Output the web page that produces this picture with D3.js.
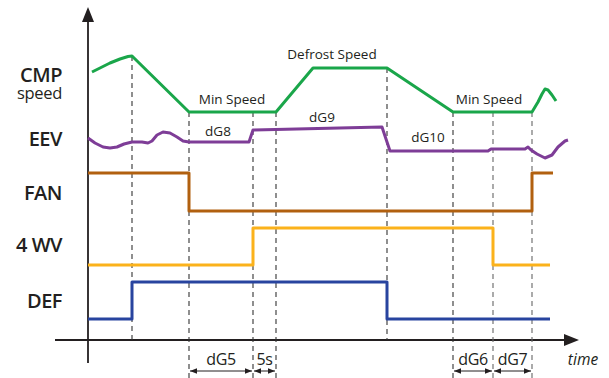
<!DOCTYPE html>
<html><head><meta charset="utf-8">
<script src="https://cdn.jsdelivr.net/npm/d3@7"></script>
<style>body{margin:0;background:#fff}svg{display:block}text{font-family:"Open Sans",sans-serif;fill:#231f20}</style>
</head><body><div id="chart"></div>
<script>
// time axis: t units (0 = y axis), value axis: level units (0 = x axis)
const eventTimes = [44, 101, 165, 188, 299, 365, 405, 444];
const eventTops  = [284, 228, 228, 228, 272, 228, 228, 228];
const eventBottoms = [0, -38, -38, -38, 0, -38, -38, -38];

const cmpT = [4, 12, 22, 32, 40, 44, 101, 188, 225, 299, 365, 444, 450, 454, 457, 460, 464, 468];
const cmpV = [268, 272, 277, 281, 283.5, 284, 228, 228, 272, 272, 228, 228, 238, 246, 251, 250, 245, 239];

const eevT = [0, 7, 15, 22, 29, 36, 44, 54, 60, 64, 69, 75, 82, 89, 95, 101, 161, 165, 294, 302, 400, 403, 437, 440, 443, 449, 457, 464, 470, 477, 480];
const eevV = [202, 197, 193, 192, 193, 196, 198, 198, 197, 199, 205, 208, 207, 203, 199, 198, 198, 210, 213, 189, 189, 191, 191, 193, 190, 186, 182, 185, 193, 199, 200];

const fanT = [0, 101, 101, 444, 444, 465];
const fanV = [167, 167, 129, 129, 167, 167];
const wvT  = [0, 165, 165, 405, 405, 462];
const wvV  = [75, 75, 112, 112, 75, 75];
const defT = [0, 44, 44, 299, 299, 462];
const defV = [21, 21, 58, 58, 21, 21];

const signalLabels = ["EEV", "FAN", "4 WV", "DEF"];
const signalLabelV = [194, 140, 88, 32];

const speedLabels = ["Min Speed", "Defrost Speed", "Min Speed"];
const speedLabelT = [144, 244, 401];
const speedLabelV = [236, 281, 236];

const eevLabels = ["dG8", "dG9", "dG10"];
const eevLabelT = [130, 234, 340];
const eevLabelV = [204, 218, 198];

const dimLabels = ["dG5", "5s", "dG6", "dG7"];
const dimFrom = [101, 165, 365, 405];
const dimTo   = [165, 188, 405, 444];

const W = 609, H = 378;
const x = d3.scaleLinear().domain([0, 490]).range([88, 578]);
const y = d3.scaleLinear().domain([0, 340]).range([340, 0]);

const svg = d3.select("#chart").append("svg").attr("width", W).attr("height", H);
const defs = svg.append("defs");
defs.append("marker").attr("id", "ah").attr("viewBox", "0 0 10 10").attr("refX", 10).attr("refY", 5)
  .attr("markerWidth", 7).attr("markerHeight", 7).attr("markerUnits", "userSpaceOnUse").attr("orient", "auto-start-reverse")
  .append("path").attr("d", "M0,1 L10,5 L0,9 Z").attr("fill", "#231f20");

// axes
svg.append("line").attr("x1", x(0)).attr("x2", x(0)).attr("y1", y(320)).attr("y2", y(-23))
  .attr("stroke", "#231f20").attr("stroke-width", 1.8);
svg.append("path").attr("d", `M${x(0)},${y(333)} L${x(0)-6},${y(318)} L${x(0)+6},${y(318)} Z`).attr("fill", "#231f20");
svg.append("line").attr("x1", x(-33)).attr("x2", x(478)).attr("y1", y(0)).attr("y2", y(0))
  .attr("stroke", "#231f20").attr("stroke-width", 1.8);
svg.append("path").attr("d", `M${x(491)},${y(0)} L${x(476)},${y(6)} L${x(476)},${y(-6)} Z`).attr("fill", "#231f20");

// dashed event lines
eventTimes.forEach((t, i) => {
  svg.append("line").attr("x1", x(t)).attr("x2", x(t)).attr("y1", y(eventTops[i])).attr("y2", y(eventBottoms[i]))
    .attr("stroke", i >= 6 ? "#666" : "#333").attr("stroke-width", 1.1).attr("stroke-dasharray", "5,4");
});

const line = d3.line().x(d => x(d[0])).y(d => y(d[1]));
const drawSig = (T, V, color, w) => svg.append("path").attr("d", line(T.map((t, i) => [t, V[i]])))
  .attr("fill", "none").attr("stroke", color).attr("stroke-width", w).attr("stroke-linejoin", "round");

drawSig(fanT, fanV, "#b1600f", 3);
drawSig(wvT, wvV, "#fbb21b", 3);
drawSig(defT, defV, "#28449f", 3);
drawSig(cmpT, cmpV, "#1aa64a", 3);
drawSig(eevT, eevV, "#7e3d97", 3);

// signal labels
const cmpLabel = svg.append("text").attr("x", 62).attr("y", y(258)).attr("text-anchor", "end");
cmpLabel.append("tspan").attr("x", 62).attr("font-size", 20).attr("font-weight", 600).attr("letter-spacing", -0.5).text("CMP");
cmpLabel.append("tspan").attr("x", 62).attr("dy", 17).attr("font-size", 16.5).attr("letter-spacing", -0.3).text("speed");

signalLabels.forEach((s, i) => {
  svg.append("text").attr("x", 62).attr("y", y(signalLabelV[i])).attr("text-anchor", "end")
    .attr("font-size", 20).attr("font-weight", 600).attr("letter-spacing", -0.5).text(s);
});

speedLabels.forEach((s, i) => svg.append("text").attr("x", x(speedLabelT[i])).attr("y", y(speedLabelV[i]))
  .attr("text-anchor", "middle").attr("font-size", 13.5).text(s));
eevLabels.forEach((s, i) => svg.append("text").attr("x", x(eevLabelT[i])).attr("y", y(eevLabelV[i]))
  .attr("text-anchor", "middle").attr("font-size", 13.5).text(s));

// dimension arrows
dimLabels.forEach((s, i) => {
  svg.append("line").attr("x1", x(dimFrom[i]) + 1).attr("x2", x(dimTo[i]) - 1).attr("y1", y(-31)).attr("y2", y(-31))
    .attr("stroke", "#231f20").attr("stroke-width", 1)
    .attr("marker-start", "url(#ah)").attr("marker-end", "url(#ah)");
  svg.append("text").attr("x", (x(dimFrom[i]) + x(dimTo[i])) / 2).attr("y", y(-25))
    .attr("text-anchor", "middle").attr("font-size", 16).attr("letter-spacing", -0.4).text(s);
});
svg.append("text").attr("x", 583).attr("y", y(-25)).attr("text-anchor", "middle").attr("font-size", 15.5)
  .attr("font-style", "italic").text("time");
</script></body></html>
